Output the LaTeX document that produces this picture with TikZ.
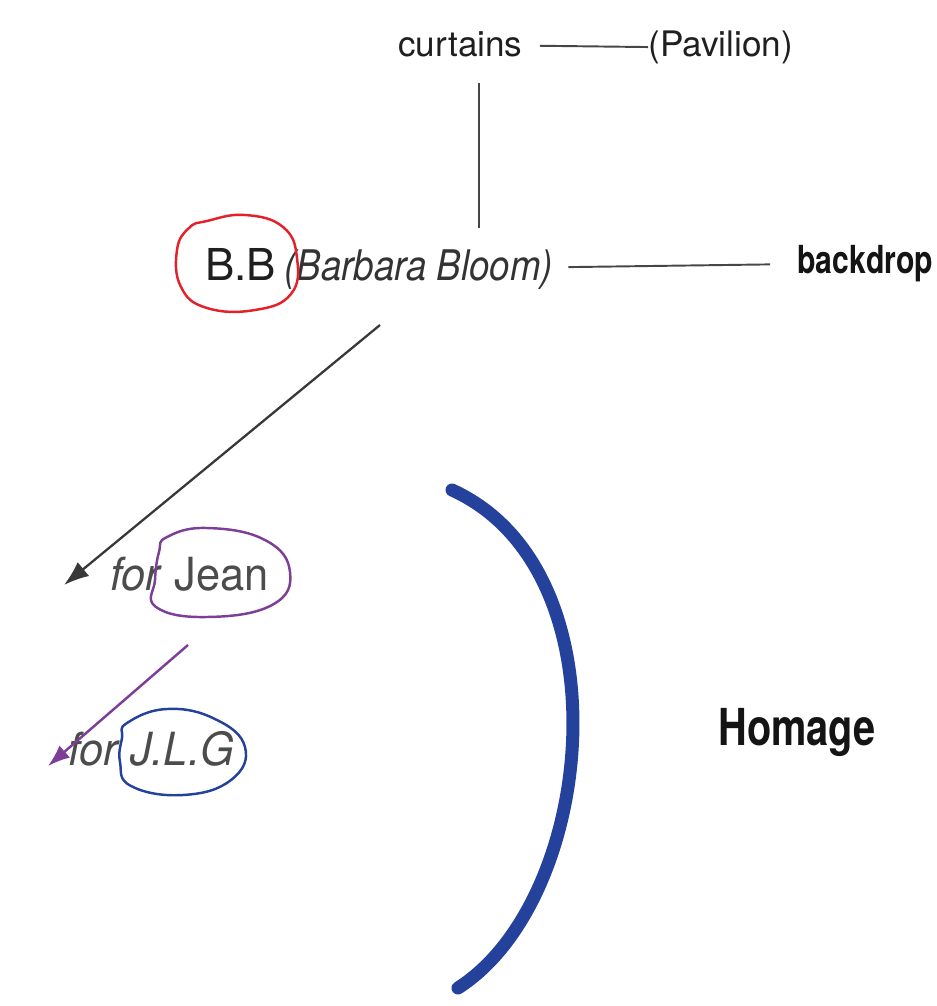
\documentclass[tikz,border=0pt]{standalone}
\usepackage{fontspec}
\setmainfont{TeX Gyre Heros}
\newfontfamily\condfont[FakeStretch=0.78]{TeX Gyre Heros}
\newfontfamily\lightfont[FakeStretch=0.95]{TeX Gyre Heros}
\newfontfamily\narrowfont[FakeStretch=0.87]{TeX Gyre Heros}
\usetikzlibrary{positioning,arrows.meta}
\definecolor{ringred}{RGB}{228,32,40}
\definecolor{ringpurple}{RGB}{125,62,152}
\definecolor{ringblue}{RGB}{36,66,156}
\definecolor{linegray}{RGB}{70,70,70}

\begin{document}
\begin{tikzpicture}[x=0.2mm,y=-0.2mm]
\tikzstyle{word}=[inner sep=0pt, anchor=base west, text=black!88]
\tikzstyle{light}=[inner sep=0pt, anchor=base west, text=black!70]
\tikzstyle{heavy}=[inner sep=0pt, anchor=base west, text=black!92]
\tikzstyle{connect}=[draw=linegray, line width=1.1pt]
\tikzstyle{arrow}=[-{Latex[length=5mm,width=3.6mm]}, line width=1.3pt, draw=black!78, fill=black!78]
\tikzstyle{ring}=[line width=1.4pt]
\useasboundingbox (0,0) rectangle (937,1006);

	\node[word] (curtains) at (398,57) {\fontsize{20}{24}\selectfont curtains};
	\node[word] (pavilion) at (648,57) {\fontsize{20}{24}\selectfont (Pavilion)};
	\node[word] (bb) at (205,280) {\fontsize{25}{30}\selectfont B.B};
	\node[light,text=black!80] (bloom) at (284,280) {\narrowfont\fontsize{24}{28}\selectfont\itshape (Barbara Bloom)};
	\node[heavy] (backdrop) at (797,273) {\condfont\fontsize{22}{26}\selectfont\bfseries backdrop};
	\node[light] (jean) at (110,590) {\lightfont\fontsize{26}{30}\selectfont\textit{for} Jean};
	\node[light] (jlg) at (68,765) {\lightfont\fontsize{26}{30}\selectfont\itshape for J.L.G};
	\node[heavy] (homage) at (718,745) {\condfont\fontsize{29}{34}\selectfont\bfseries Homage};

	\coordinate (drop_top) at (479,83);
	\coordinate (drop_bot) at (479,228);
	\coordinate (bb_from) at (380,325);
	\coordinate (bb_to) at (64,585);
	\coordinate (jean_from) at (188,645);
	\coordinate (jean_to) at (48,766);
	\coordinate (arc_top) at (452,490);
	\coordinate (arc_bot) at (458,988);

	\path
		(curtains) edge [connect, shorten <=3.4mm] (pavilion)
		(drop_top) edge [connect] (drop_bot)
		(bloom) edge [connect, shorten <=3mm, shorten >=5.4mm] (backdrop);

	\draw[arrow] (bb_from) -- (bb_to);
	\draw[arrow, draw=ringpurple, fill=ringpurple, line width=1.4pt, -{Latex[length=4.4mm,width=3.2mm]}] (jean_from) -- (jean_to);

	% rings round the names
	\draw[ring, ringred] plot[smooth cycle, tension=0.75] coordinates
		{(207,221) (245,215) (283,227) (297,258) (291,294) (255,310) (207,308) (181,287) (177,250) (189,228)};
	\draw[ring, ringpurple] plot[smooth cycle, tension=0.75] coordinates
		{(167,537) (207,528) (265,540) (290,572) (272,605) (207,617) (156,607) (155,580) (159,552)};
	\draw[ring, ringblue] plot[smooth cycle, tension=0.75] coordinates
		{(127,723) (167,709) (215,719) (245,747) (231,780) (183,795) (131,786) (120,762) (122,738)};

	% bracket
	\draw[ringblue, line width=2.6mm, line cap=round] (arc_top) .. controls (628,570) and (596,900) .. (arc_bot);
\end{tikzpicture}
\end{document}
